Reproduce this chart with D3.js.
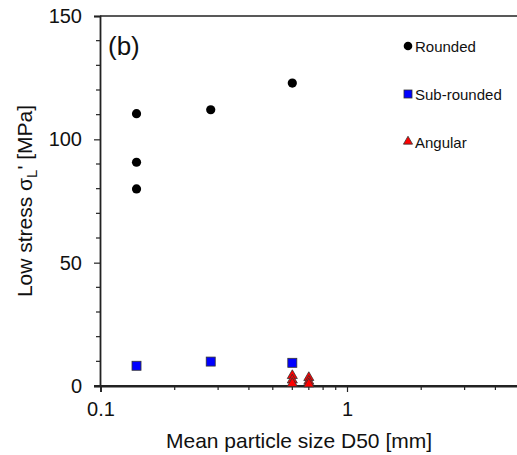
<!DOCTYPE html>
<html><head><meta charset="utf-8">
<script src="https://cdn.jsdelivr.net/npm/d3@7"></script>
<style>body{margin:0;background:#fff;} text{font-family:"Liberation Sans",Arial,sans-serif;fill:#111;}</style>
</head><body>
<svg id="c" width="517" height="455"></svg>
<script>
const roundedX = [0.14, 0.14, 0.14, 0.28, 0.60];
const roundedY = [110.4, 90.7, 79.9, 112.0, 122.8];
const subX = [0.14, 0.28, 0.60];
const subY = [8.2, 9.9, 9.4];
const angX = [0.60, 0.60, 0.60, 0.70, 0.70, 0.70];
const angY = [3.8, 2.0, 0.6, 3.0, 1.5, 0.4];
const yTicks = [0, 50, 100, 150];
const xTicks = [0.1, 1];
const legendLabels = ["Rounded", "Sub-rounded", "Angular"];

const svg = d3.select("#c");
const x = d3.scaleLog().domain([0.1, 5]).range([100.5, 519.3]);
const y = d3.scaleLinear().domain([0, 150]).range([386, 16]);
const ink = "#222";

// top border
svg.append("line").attr("x1", 100).attr("x2", 517).attr("y1", 16).attr("y2", 16)
  .attr("stroke", ink).attr("stroke-width", 1.5);

// y axis
const ya = svg.append("g").attr("transform", "translate(100,0)");
ya.call(d3.axisLeft(y).tickValues(yTicks).tickSize(6).tickPadding(12).tickFormat(d3.format("d")));
const yMinor = d3.range(0, 151, 10).filter(v => v % 50 !== 0);
ya.selectAll(".minor").data(yMinor).enter().append("line")
  .attr("x1", -4).attr("x2", 0).attr("y1", d => y(d)).attr("y2", d => y(d))
  .attr("stroke", ink).attr("stroke-width", 1.2);

// x axis
const xa = svg.append("g").attr("transform", "translate(0,386)");
xa.call(d3.axisBottom(x).tickValues(xTicks).tickSize(6).tickPadding(10).tickFormat(d => d === 1 ? "1" : "0.1"));
const xMinor = [0.2,0.3,0.4,0.5,0.6,0.7,0.8,0.9,2,3,4];
xa.selectAll(".minor").data(xMinor).enter().append("line")
  .attr("x1", d => x(d)).attr("x2", d => x(d)).attr("y1", 0).attr("y2", 4)
  .attr("stroke", ink).attr("stroke-width", 1.2);
xa.append("line").attr("x1", 94).attr("x2", 517).attr("y1", 0).attr("y2", 0).attr("stroke", ink).attr("stroke-width", 1.8);

svg.selectAll(".domain").attr("stroke", ink).attr("stroke-width", 1.8);
svg.selectAll(".tick line").attr("stroke", ink).attr("stroke-width", 1.2);
svg.selectAll(".tick text").attr("font-size", 20).attr("fill", "#111")
  .attr("font-family", '"Liberation Sans",Arial,sans-serif');

// axis titles
svg.append("text").attr("x", 299).attr("y", 448).attr("text-anchor", "middle")
  .attr("font-size", 21).text("Mean particle size D50 [mm]");
const yt = svg.append("text").attr("transform", "translate(32,201) rotate(-90)")
  .attr("text-anchor", "middle").attr("font-size", 21);
yt.append("tspan").text("Low stress σ");
yt.append("tspan").attr("font-size", 15).attr("dy", 5).text("L");
yt.append("tspan").attr("dy", -5).text("' [MPa]");

svg.append("text").attr("x", 108).attr("y", 55).attr("font-size", 26).text("(b)");

// marks
const tri = d3.symbol().type(d3.symbolTriangle).size(44);
svg.selectAll(".r").data(roundedX).enter().append("circle")
  .attr("cx", (d) => x(d)).attr("cy", (d, i) => y(roundedY[i])).attr("r", 4.6).attr("fill", "#000");
svg.selectAll(".s").data(subX).enter().append("rect")
  .attr("x", d => x(d) - 4.5).attr("y", (d, i) => y(subY[i]) - 4.5).attr("width", 9).attr("height", 9)
  .attr("fill", "#0000ff").attr("stroke", "#333").attr("stroke-width", 0.8);
svg.selectAll(".a").data(angX).enter().append("path")
  .attr("d", tri).attr("transform", (d, i) => `translate(${x(d)},${y(angY[i]) - 1})`)
  .attr("fill", "#ff0000").attr("stroke", "#333").attr("stroke-width", 0.8);

// legend
const lg = svg.append("g");
const ly = [46, 94, 142];
lg.append("circle").attr("cx", 408).attr("cy", ly[0]).attr("r", 4.3).attr("fill", "#000");
lg.append("rect").attr("x", 404).attr("y", ly[1] - 4).attr("width", 8).attr("height", 8)
  .attr("fill", "#0000ff").attr("stroke", "#333").attr("stroke-width", 0.8);
lg.append("path").attr("d", d3.symbol().type(d3.symbolTriangle).size(36))
  .attr("transform", `translate(408,${ly[2] - 0.5})`).attr("fill", "#ff0000").attr("stroke", "#333").attr("stroke-width", 0.8);
lg.selectAll(".lt").data(legendLabels).enter().append("text")
  .attr("x", 415).attr("y", (d, i) => ly[i] + 5.5).attr("font-size", 15).text(d => d);
</script>
</body></html>
